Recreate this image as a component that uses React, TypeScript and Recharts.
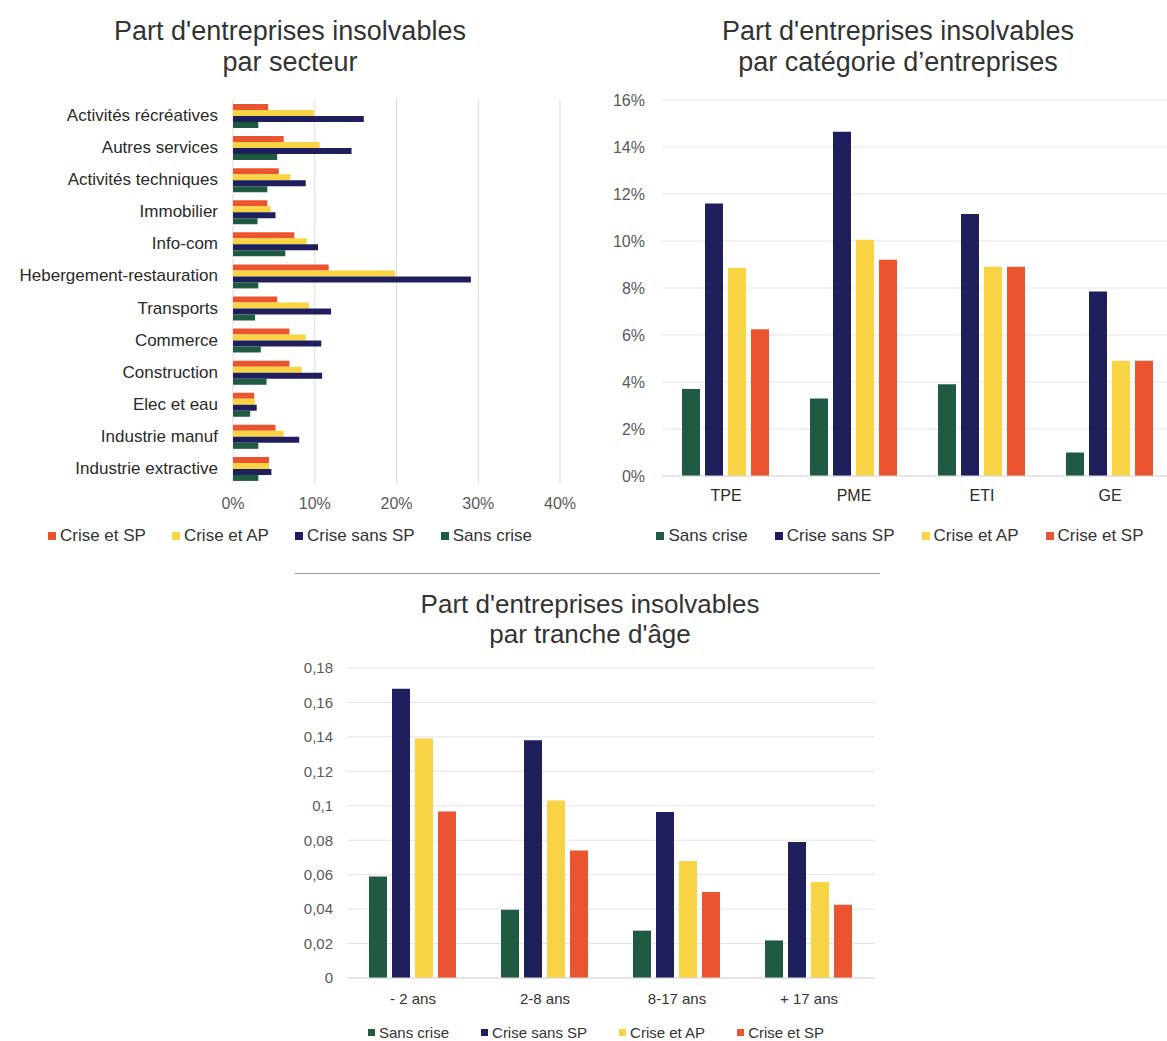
import React from 'react';
import { BarChart, Bar, XAxis, YAxis, CartesianGrid, Legend } from 'recharts';

// ---------- Chart 1: par secteur (values in %) ----------
const sectors = [
  'Activités récréatives', 'Autres services', 'Activités techniques', 'Immobilier', 'Info-com',
  'Hebergement-restauration', 'Transports', 'Commerce', 'Construction', 'Elec et eau',
  'Industrie manuf', 'Industrie extractive',
];
const sectorCriseSP = [4.3, 6.2, 5.6, 4.2, 7.5, 11.7, 5.4, 6.9, 6.9, 2.6, 5.2, 4.4];
const sectorCriseAP = [9.9, 10.6, 7.0, 4.6, 9.0, 19.8, 9.3, 8.9, 8.4, 2.7, 6.2, 4.4];
const sectorCriseSansSP = [16.0, 14.5, 8.9, 5.2, 10.4, 29.1, 12.0, 10.8, 10.9, 2.9, 8.1, 4.7];
const sectorSansCrise = [3.1, 5.4, 4.2, 3.0, 6.4, 3.1, 2.7, 3.4, 4.1, 2.1, 3.1, 3.1];
const sectorTicks = [0, 10, 20, 30, 40];

// ---------- Chart 2: par catégorie (values in %) ----------
const categories = ['TPE', 'PME', 'ETI', 'GE'];
const catSansCrise = [3.7, 3.3, 3.9, 1.0];
const catCriseSansSP = [11.6, 14.65, 11.15, 7.85];
const catCriseAP = [8.85, 10.05, 8.9, 4.9];
const catCriseSP = [6.25, 9.2, 8.9, 4.9];
const catTicks = [0, 2, 4, 6, 8, 10, 12, 14, 16];

// ---------- Chart 3: par tranche d'âge (shares) ----------
const ages = ['- 2 ans', '2-8 ans', '8-17 ans', '+ 17 ans'];
const ageSansCrise = [0.059, 0.0397, 0.0275, 0.0218];
const ageCriseSansSP = [0.168, 0.138, 0.0964, 0.079];
const ageCriseAP = [0.139, 0.103, 0.068, 0.0557];
const ageCriseSP = [0.0967, 0.074, 0.05, 0.0426];
const ageTicks = [0, 0.02, 0.04, 0.06, 0.08, 0.1, 0.12, 0.14, 0.16, 0.18];

const GREEN = '#1f5a43';
const NAVY = '#1f1f5e';
const YELLOW = '#f8d343';
const RED = '#ea5430';

const sectorLegend = [
  { name: 'Crise et SP', color: RED },
  { name: 'Crise et AP', color: YELLOW },
  { name: 'Crise sans SP', color: NAVY },
  { name: 'Sans crise', color: GREEN },
];
const seriesLegend = [
  { name: 'Sans crise', color: GREEN },
  { name: 'Crise sans SP', color: NAVY },
  { name: 'Crise et AP', color: YELLOW },
  { name: 'Crise et SP', color: RED },
];

const sectorData = sectors.map((name, i) => ({
  name,
  criseSP: sectorCriseSP[i],
  criseAP: sectorCriseAP[i],
  criseSansSP: sectorCriseSansSP[i],
  sansCrise: sectorSansCrise[i],
}));
const catData = categories.map((name, i) => ({
  name,
  sansCrise: catSansCrise[i],
  criseSansSP: catCriseSansSP[i],
  criseAP: catCriseAP[i],
  criseSP: catCriseSP[i],
}));
const ageData = ages.map((name, i) => ({
  name,
  sansCrise: ageSansCrise[i],
  criseSansSP: ageCriseSansSP[i],
  criseAP: ageCriseAP[i],
  criseSP: ageCriseSP[i],
}));

const makeLegend = (items: { name: string; color: string }[], fontSize: number, gap: number, sq: number) => () => (
  <div style={{ display: 'flex', justifyContent: 'center', gap, fontSize, color: '#333', whiteSpace: 'nowrap', lineHeight: `${fontSize + 2}px` }}>
    {items.map((p) => (
      <span key={p.name} style={{ display: 'inline-flex', alignItems: 'center' }}>
        <span style={{ width: sq, height: sq, background: p.color, marginRight: 4, display: 'inline-block' }} />
        {p.name}
      </span>
    ))}
  </div>
);

const titleStyle: React.CSSProperties = {
  position: 'absolute',
  textAlign: 'center',
  color: '#333',
  fontSize: 27,
  lineHeight: '31px',
};

export default function App() {
  return (
    <div
      style={{
        position: 'absolute',
        left: 0,
        top: 0,
        width: 1167,
        height: 1041,
        overflow: 'hidden',
        background: '#fff',
        fontFamily: "'Liberation Sans', Arial, sans-serif",
      }}
    >
      {/* Titles */}
      <div style={{ ...titleStyle, left: 0, top: 16, width: 580 }}>
        Part d'entreprises insolvables<br />par secteur
      </div>
      <div style={{ ...titleStyle, left: 598, top: 16, width: 600 }}>
        Part d'entreprises insolvables<br />par catégorie d’entreprises
      </div>
      <div style={{ ...titleStyle, left: 290, top: 589, width: 600, fontSize: 26, lineHeight: '30px' }}>
        Part d'entreprises insolvables<br />par tranche d'âge
      </div>
      <div style={{ position: 'absolute', left: 295, top: 573, width: 585, height: 1, background: '#9a9a9a' }} />

      {/* Chart 1 */}
      <div style={{ position: 'absolute', left: 0, top: 0 }}>
        <BarChart
          width={580}
          height={560}
          data={sectorData}
          layout="vertical"
          margin={{ top: 99, right: 20, bottom: 46, left: 0 }}
          barCategoryGap={5}
          barGap={0}
        >
          <CartesianGrid horizontal={false} stroke="#dcdcdc" />
          <XAxis
            type="number"
            domain={[0, 40]}
            ticks={sectorTicks}
            tickFormatter={(v: number) => `${v}%`}
            axisLine={false}
            tickLine={false}
            tickSize={0}
            tickMargin={14}
            height={30}
            tick={{ fill: '#595959', fontSize: 16 }}
          />
          <YAxis
            type="category"
            dataKey="name"
            width={233}
            axisLine={false}
            tickLine={false}
            tickSize={0}
            tickMargin={15}
            interval={0}
            tick={{ fill: '#2a2a2a', fontSize: 17 }}
          />
          <Legend
            layout="horizontal"
            verticalAlign="middle"
            align="center"
            wrapperStyle={{ left: 0, top: 526, width: 580 }}
            content={makeLegend(sectorLegend, 17, 26, 8)}
          />
          <Bar dataKey="criseSP" name="Crise et SP" fill={RED} isAnimationActive={false} />
          <Bar dataKey="criseAP" name="Crise et AP" fill={YELLOW} isAnimationActive={false} />
          <Bar dataKey="criseSansSP" name="Crise sans SP" fill={NAVY} isAnimationActive={false} />
          <Bar dataKey="sansCrise" name="Sans crise" fill={GREEN} isAnimationActive={false} />
        </BarChart>
      </div>

      {/* Chart 2 */}
      <div style={{ position: 'absolute', left: 580, top: 0 }}>
        <BarChart
          width={600}
          height={560}
          data={catData}
          margin={{ top: 100, right: 6, bottom: 54, left: 0 }}
          barCategoryGap={20}
          barGap={5}
        >
          <CartesianGrid vertical={false} stroke="#e3e3e3" />
          <XAxis
            dataKey="name"
            axisLine={{ stroke: '#d9d9d9' }}
            tickLine={false}
            tickSize={0}
            tickMargin={14}
            height={30}
            tick={{ fill: '#2a2a2a', fontSize: 16 }}
          />
          <YAxis
            domain={[0, 16]}
            ticks={catTicks}
            tickFormatter={(v: number) => `${v}%`}
            width={82}
            axisLine={false}
            tickLine={false}
            tickSize={0}
            tickMargin={17}
            tick={{ fill: '#595959', fontSize: 16 }}
          />
          <Legend
            layout="horizontal"
            verticalAlign="middle"
            align="center"
            wrapperStyle={{ left: 0, top: 526, width: 640 }}
            content={makeLegend(seriesLegend, 17, 27, 8)}
          />
          <Bar dataKey="sansCrise" name="Sans crise" fill={GREEN} isAnimationActive={false} />
          <Bar dataKey="criseSansSP" name="Crise sans SP" fill={NAVY} isAnimationActive={false} />
          <Bar dataKey="criseAP" name="Crise et AP" fill={YELLOW} isAnimationActive={false} />
          <Bar dataKey="criseSP" name="Crise et SP" fill={RED} isAnimationActive={false} />
        </BarChart>
      </div>

      {/* Chart 3 */}
      <div style={{ position: 'absolute', left: 260, top: 640 }}>
        <BarChart
          width={640}
          height={401}
          data={ageData}
          margin={{ top: 28, right: 25, bottom: 33, left: 0 }}
          barCategoryGap={22}
          barGap={5}
        >
          <CartesianGrid vertical={false} stroke="#e3e3e3" />
          <XAxis
            dataKey="name"
            axisLine={{ stroke: '#d9d9d9' }}
            tickLine={false}
            tickSize={0}
            tickMargin={15}
            height={30}
            tick={{ fill: '#333', fontSize: 15 }}
          />
          <YAxis
            domain={[0, 0.18]}
            ticks={ageTicks}
            tickFormatter={(v: number) => String(Math.round(v * 100) / 100).replace('.', ',')}
            width={87}
            axisLine={false}
            tickLine={false}
            tickSize={0}
            tickMargin={14}
            tick={{ fill: '#595959', fontSize: 15 }}
          />
          <Legend
            layout="horizontal"
            verticalAlign="middle"
            align="center"
            wrapperStyle={{ left: 0, top: 384, width: 672 }}
            content={makeLegend(seriesLegend, 15, 32, 7)}
          />
          <Bar dataKey="sansCrise" name="Sans crise" fill={GREEN} isAnimationActive={false} />
          <Bar dataKey="criseSansSP" name="Crise sans SP" fill={NAVY} isAnimationActive={false} />
          <Bar dataKey="criseAP" name="Crise et AP" fill={YELLOW} isAnimationActive={false} />
          <Bar dataKey="criseSP" name="Crise et SP" fill={RED} isAnimationActive={false} />
        </BarChart>
      </div>
    </div>
  );
}
